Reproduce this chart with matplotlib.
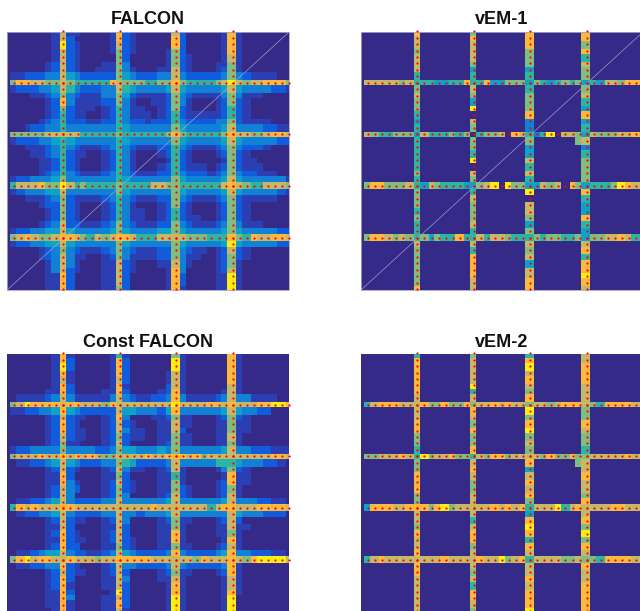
# sensor grid maps, levels are single digits 0-9
import numpy as np
import matplotlib
matplotlib.use('Agg')
from matplotlib import pyplot as plt
from matplotlib.colors import ListedColormap

titles = ['FALCON', 'vEM-1', 'Const FALCON', 'vEM-2']
lines = [8, 16, 24, 32]

# background rows y=0..40, groups are x0-7, x9-15, x17-23, x25-31, x33-40
falcon_bg = """
00000001 1100001 2100000 2000001 10000000
00000001 2000001 2100000 2000001 10000000
00000001 2100001 2100000 2000001 10000000
00000001 2100001 2100001 2000001 10000000
00000001 2100000 2000001 2100001 10000000
00000012 2100011 3000001 2100011 10000000
00000012 2100111 3100011 2100012 10000000
01122233 4322222 4322233 3222223 32111100
00000000 0000000 0000000 0000000 00000000
01222334 5322233 5433334 4333334 43333221
00001123 3211133 4211112 3211113 31110000
00000012 3111122 3100112 3100012 21000000
00000012 2111012 3110012 2100012 21000000
00000012 2110012 3111012 2111112 21000000
00000123 2221122 3221222 3222233 21111000
00012233 3333333 4333333 4333334 33332211
00000000 0000000 0000000 0000000 00000000
01222334 4333333 4333333 4333334 43333322
00011123 3211123 3211122 3211123 32221000
00001123 2110012 3100012 2100012 21000000
00000112 2100012 3100001 2100001 21100000
00000112 2100012 3100012 2111012 21110000
00000123 3211123 3211122 3222123 32211100
01223334 3333333 4333333 4333334 43333331
00000000 0000000 0000000 0000000 00000000
01233344 3333333 4333333 4333334 43333321
00011123 2111123 3211122 3211123 21111100
00000122 2100012 3100012 2100012 21000000
00000012 2100012 3110012 2100012 21000000
00000012 2100012 3110012 2110012 21000000
00000123 2211123 3211122 3211123 31110000
01223344 4333334 4333344 4333334 43333322
00000000 0000000 0000000 0000000 00000000
01223344 4333333 4333333 4333334 43333322
00000123 3211123 3211122 3211012 21000000
00000123 3110012 3111122 3110012 21000000
00000013 3100011 2100011 3100012 10000000
00000013 2100011 2100001 3000012 10000000
00000011 2000011 2000001 2000011 10000000
00000011 2000011 2000001 2000011 10000000
00000011 2000011 2000001 1000011 10000000
"""

const_bg = """
00000001 1000001 1000000 1000000 10000000
00000001 2000001 2000000 1000000 10000000
00000001 2000001 2000000 1000000 10000000
00000001 1000001 2000001 1000000 10000000
00000001 1000001 2000001 1000000 10000000
00000001 2000001 1000002 1000000 10000000
00000011 2000011 2000012 1000001 10000000
00111123 3111113 3211223 3111123 33111100
00000000 0000000 0000000 0000000 00000000
01122334 4322222 4433324 3333334 43322000
00000012 2110012 3000112 1100012 21000000
00000012 2100012 2100011 1100011 11000000
00000012 2110012 3110011 2000011 11000000
00000012 2110012 2110011 1100011 10000000
00000012 1100012 2000012 1100011 10000000
01223333 3333223 4433343 3333334 33222111
00000000 0000000 0000000 0000000 00000000
00112234 4322233 5422223 3333355 43332210
00000012 2100012 3110012 1000013 21000000
00000011 2000011 2000011 1000001 11000000
00000011 3100012 2100011 1000012 11000000
00000012 3200012 2100011 2100012 10000000
00000012 3000012 3000012 2100012 10000000
00112234 3222233 3333334 3333334 33322110
00000000 0000000 0000000 0000000 00000000
00122334 3222233 3323334 3333333 43332220
00000012 2110012 3000012 1100012 20000000
00000011 2000011 2000011 1000011 11000000
00000012 2100012 2000011 1000011 10000000
00000011 2110012 2100011 1000001 10000000
00000012 2200011 2100011 1100012 10000000
00112344 3221123 4322223 3222234 33222110
00000000 0000000 0000000 0000000 00000000
00112233 2100012 3322223 3222223 10000000
00000012 2110012 2000012 1100012 10000000
00000012 2000011 3000011 1000001 10000000
00000012 1000011 2000001 1000001 10000000
00000011 2000001 2000001 1000001 10000000
00000011 3000011 2000001 1000001 00000000
00000011 1000011 2000001 1000001 00000000
00000001 1000011 1000001 1000001 00000000
"""

# vertical stripes x=8,16,24,32, y=0..40
falcon_x = ['77977777 77686555 75555556 87666677 776777888',
            '88766666 77665555 75555555 66555566 866677776',
            '78866677 77666556 86555556 66665566 666678888',
            '88887666 87665567 87666667 87666666 897667999']
const_x = ['88987887 88788766 77788777 87778887 887888888',
           '58887887 67877676 76767667 77777767 877779787',
           '69977788 98677666 87756677 77668868 776788999',
           '88888777 87666767 85688677 87776878 888778999']
vem1_x = ['87767775 56766545 45555565 56665655 576666668',
          '68777645 57649076 06659076 45766675 575888877',
          '88866645 45666833 36447575 49077646 576747788',
          '88685766 66754845 47356666 48544854 478588987']
vem2_x = ['58888887 77788665 76688866 87768778 788777777',
          '67777957 78768668 57876677 77578867 776758876',
          '58978768 69689676 68478786 54898587 577878889',
          '77888777 76687665 67787768 87869687 687788888']

# horizontal bands y=8,16,24,32, x=1..40
falcon_y = ['68877667 65555587 66655668 65555679 76778886',
            '66666777 77555556 55555568 65555568 77667887',
            '57778669 75655556 55557766 55555578 76557776',
            '67876678 87657678 87555777 76665558 65877887']
const_y = ['67988887 88777687 77777779 77778878 77788998',
           '67778778 78787667 77787788 87867777 77777887',
           '58787778 87777777 77778777 77775788 77788887',
           '68978877 87776778 88887777 77687778 76899997']
vem1_y = ['77777675 55445585 58446664 65456564 54776888',
          '76556664 75556560 56670875 35907764 76667788',
          '68866675 47655544 67909664 47670864 55569877',
          '68876765 64655855 75776555 65665564 66778758']
vem2_y = ['57888777 86686686 77878776 77678887 65888877',
          '66777875 96778665 76886777 76866866 77777877',
          '48887788 86896777 77878785 77795787 77788777',
          '57877777 77787777 87796785 77776676 65888877']

# lone cell left of stripe x=32 in the vEM panels
vem_patch = (17, 31, 6)

parula = ListedColormap(['#352a87', '#2b3fb2', '#0f5cdd', '#1081d4', '#0ea2c8',
                         '#2db5a3', '#7fbd80', '#c4b968', '#fbb93d', '#fcee0f'])


def make_grid(bg, xs, ys, patch=None):
    grid = np.zeros((41, 41), dtype=int)
    if bg:
        for y, row in enumerate(bg.split('\n')[1:-1]):
            a, b, c, d, e = row.split()
            text = a + '0' + b + '0' + c + '0' + d + '0' + e
            grid[y] = [int(ch) for ch in text]
    if patch:
        grid[patch[0], patch[1]] = patch[2]
    for pos, s in zip(lines, xs):
        for y, ch in enumerate(s.replace(' ', '')):
            grid[y, pos] = int(ch)
    for pos, s in zip(lines, ys):
        for x, ch in enumerate(s.replace(' ', '')):
            grid[pos, x + 1] = int(ch)
    return grid


def coarse(grid):
    # the heat map is a low res raster, so cells end up 2 or 3 raster pixels wide
    xi = np.clip(((np.arange(96) + 1.9) / 2.4).astype(int), 0, 40)
    yi = np.clip(np.floor((np.arange(-1, 99) - 17.45) / 2.469).astype(int) + 8, 0, 40)
    return grid[np.ix_(yi, xi)]


plt.rcParams['font.family'] = ['Liberation Sans', 'DejaVu Sans']
W, H = 640, 611
fig = plt.figure(figsize=(W / 100, H / 100), dpi=100)

grids = [make_grid(falcon_bg, falcon_x, falcon_y),
         make_grid(None, vem1_x, vem1_y, vem_patch),
         make_grid(const_bg, const_x, const_y),
         make_grid(None, vem2_x, vem2_y, vem_patch)]
boxes = [(7, 32, 258), (361, 32, 258), (7, 354, 258), (361, 354, 258)]
y_shift = 0.13

for i, (grid, box) in enumerate(zip(grids, boxes)):
    left, top, high = box
    ax = fig.add_axes([left / W, 1 - (top + high) / H, 282 / W, high / H])
    ax.imshow(coarse(grid), cmap=parula, vmin=0, vmax=9,
              extent=[0, 40, 40.15 + y_shift, -0.25 + y_shift],
              aspect='auto', interpolation='nearest')
    for pos in lines:
        ax.plot(np.arange(1, 41), [pos] * 40, ls='none', marker='o', ms=1.6, mew=0,
                color='#ff0000', clip_on=False, zorder=4)
        ax.plot([pos] * 41, np.arange(41), ls='none', marker='o', ms=1.6, mew=0,
                color='#ff0000', clip_on=False, zorder=4)
    if i < 2:
        # only the top row has the diagonal and the pale box
        ax.plot([0, 40], [40 + y_shift, y_shift], color='#a9a6d2', lw=0.45, zorder=3)
    ax.set_xlim(0, 40)
    ax.set_ylim(40 + y_shift, y_shift)
    ax.set_xticks([])
    ax.set_yticks([])
    for sp in ax.spines.values():
        if i < 2:
            sp.set_color('#a9a5d0')
            sp.set_linewidth(0.6)
        else:
            sp.set_visible(False)
    ax.set_title(titles[i], fontsize=13, fontweight='bold', color='#111111',
                 pad=5.9 if i < 2 else 4.8)

fig.savefig('out.png', dpi=100)
